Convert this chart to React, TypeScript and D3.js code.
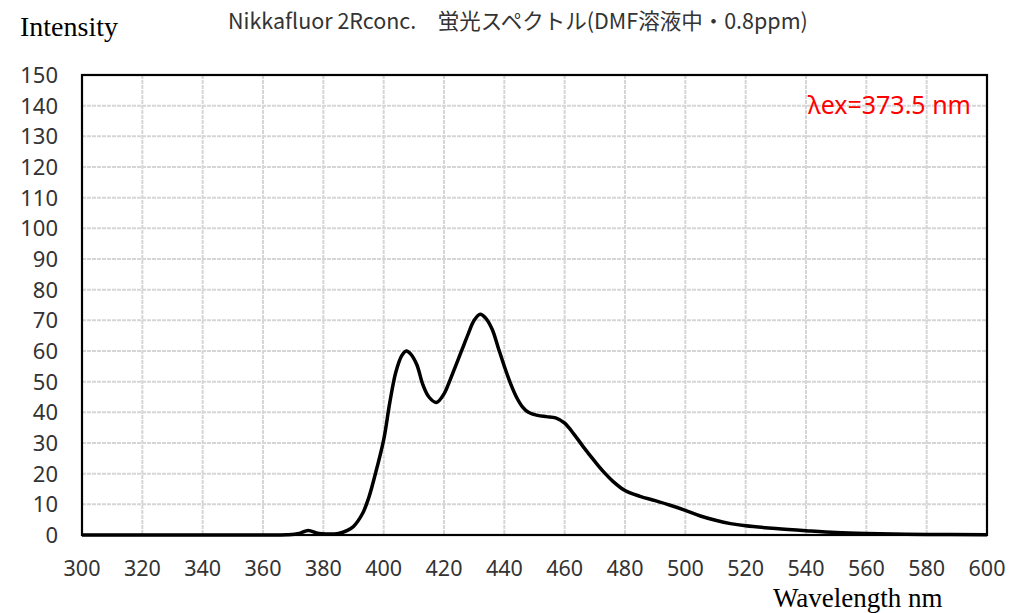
import * as d3 from 'd3';
import { useEffect, useRef } from 'react';

const wavelengths = [
  300, 320, 340, 360, 368, 372, 375, 378, 381, 385, 388, 390, 393, 395, 397,
  400, 402, 404, 406, 407.5, 409, 411, 413, 415, 417.5, 420, 422, 424, 426,
  428, 430, 432, 434, 436, 438, 440, 442, 444, 446, 448, 451, 454, 457, 460,
  463, 466, 470, 473, 476, 480, 485, 490, 495, 500, 505, 510, 515, 520, 530,
  540, 550, 560, 580, 600,
];

const intensity = [
  0, 0, 0, 0, 0.1, 0.5, 1.5, 0.6, 0.3, 0.5, 1.5, 2.8, 7, 12, 19,
  31, 43, 53, 58.5, 60, 59, 55.5, 49, 45, 43.2, 46, 50.5, 55.5, 60.5,
  65.5, 70, 72, 70.5, 67, 61, 55, 49.5, 45, 41.8, 40, 39, 38.6, 38.2, 36.5,
  33, 29, 24, 20.5, 17.5, 14.5, 12.6, 11.2, 9.7, 8, 6.2, 4.8, 3.7, 3, 2.1,
  1.4, 0.8, 0.5, 0.2, 0.1,
];

const xTicks = d3.range(300, 601, 20);
const yTicks = d3.range(0, 151, 10);

const titleText = 'Nikkafluor 2Rconc.\u3000蛍光スペクトル(DMF溶液中・0.8ppm)';
const exText = 'λex=373.5 nm';

const W = 1011;
const H = 613;
const margin = { left: 82, right: 24, top: 75, bottom: 78 };

const App = () => {
  const ref = useRef<SVGSVGElement | null>(null);

  useEffect(() => {
    if (!ref.current) return;
    const svg = d3.select(ref.current);
    svg.selectAll('*').remove();

    const x = d3
      .scaleLinear()
      .domain([300, 600])
      .range([margin.left, W - margin.right]);
    const y = d3
      .scaleLinear()
      .domain([0, 150])
      .range([H - margin.bottom, margin.top]);

    const sans = 'Noto Sans, Open Sans, sans-serif';

    // grid
    const grid = svg.append('g');
    grid
      .selectAll('line.v')
      .data(xTicks.slice(1, -1))
      .join('line')
      .attr('x1', (d) => x(d))
      .attr('x2', (d) => x(d))
      .attr('y1', y(150))
      .attr('y2', y(0))
      .attr('stroke', '#d6d6d6')
      .attr('stroke-width', 2)
      .attr('stroke-dasharray', '4,1');
    grid
      .selectAll('line.h')
      .data(yTicks.slice(1, -1))
      .join('line')
      .attr('x1', x(300))
      .attr('x2', x(600))
      .attr('y1', (d) => y(d))
      .attr('y2', (d) => y(d))
      .attr('stroke', '#d6d6d6')
      .attr('stroke-width', 2)
      .attr('stroke-dasharray', '4,1');

    // frame
    svg
      .append('rect')
      .attr('x', x(300))
      .attr('y', y(150))
      .attr('width', x(600) - x(300))
      .attr('height', y(0) - y(150))
      .attr('fill', 'none')
      .attr('stroke', '#000')
      .attr('stroke-width', 2.2);

    // curve
    const pts = wavelengths.map((w, i) => [w, intensity[i]] as [number, number]);
    const line = d3
      .line<[number, number]>()
      .x((d) => x(d[0]))
      .y((d) => y(d[1]))
      .curve(d3.curveCatmullRom.alpha(0.5));
    svg
      .append('path')
      .datum(pts)
      .attr('d', line)
      .attr('fill', 'none')
      .attr('stroke', '#000')
      .attr('stroke-width', 3.5)
      .attr('stroke-linejoin', 'round');

    // y axis labels
    svg
      .append('g')
      .selectAll('text')
      .data(yTicks)
      .join('text')
      .attr('x', 58)
      .attr('y', (d) => y(d))
      .attr('dy', '0.36em')
      .attr('text-anchor', 'end')
      .attr('font-family', sans)
      .attr('font-size', 22)
      .attr('fill', '#333')
      .text((d) => d);

    // x axis labels
    svg
      .append('g')
      .selectAll('text')
      .data(xTicks)
      .join('text')
      .attr('x', (d) => x(d))
      .attr('y', 576)
      .attr('text-anchor', 'middle')
      .attr('font-family', sans)
      .attr('font-size', 21.5)
      .attr('fill', '#333')
      .text((d) => d);

    svg
      .append('text')
      .attr('x', 20)
      .attr('y', 36)
      .attr('font-family', 'Liberation Serif, serif')
      .attr('font-size', 28)
      .attr('fill', '#000')
      .text('Intensity');

    svg
      .append('text')
      .attr('x', 773)
      .attr('y', 607)
      .attr('font-family', 'Liberation Serif, serif')
      .attr('font-size', 27)
      .attr('fill', '#000')
      .text('Wavelength nm');

    svg
      .append('text')
      .attr('x', 228)
      .attr('y', 29)
      .attr('font-family', 'Noto Sans CJK JP, Noto Sans, sans-serif')
      .attr('font-size', 21.5)
      .attr('fill', '#333')
      .text(titleText);

    svg
      .append('text')
      .attr('x', 971)
      .attr('y', 114)
      .attr('text-anchor', 'end')
      .attr('font-family', sans)
      .attr('font-size', 25)
      .attr('fill', '#ff0000')
      .text(exText);
  }, []);

  return (
    <svg
      ref={ref}
      width={W}
      height={H}
      style={{ position: 'absolute', left: 0, top: 0, background: '#fff' }}
    />
  );
};

export default App;
